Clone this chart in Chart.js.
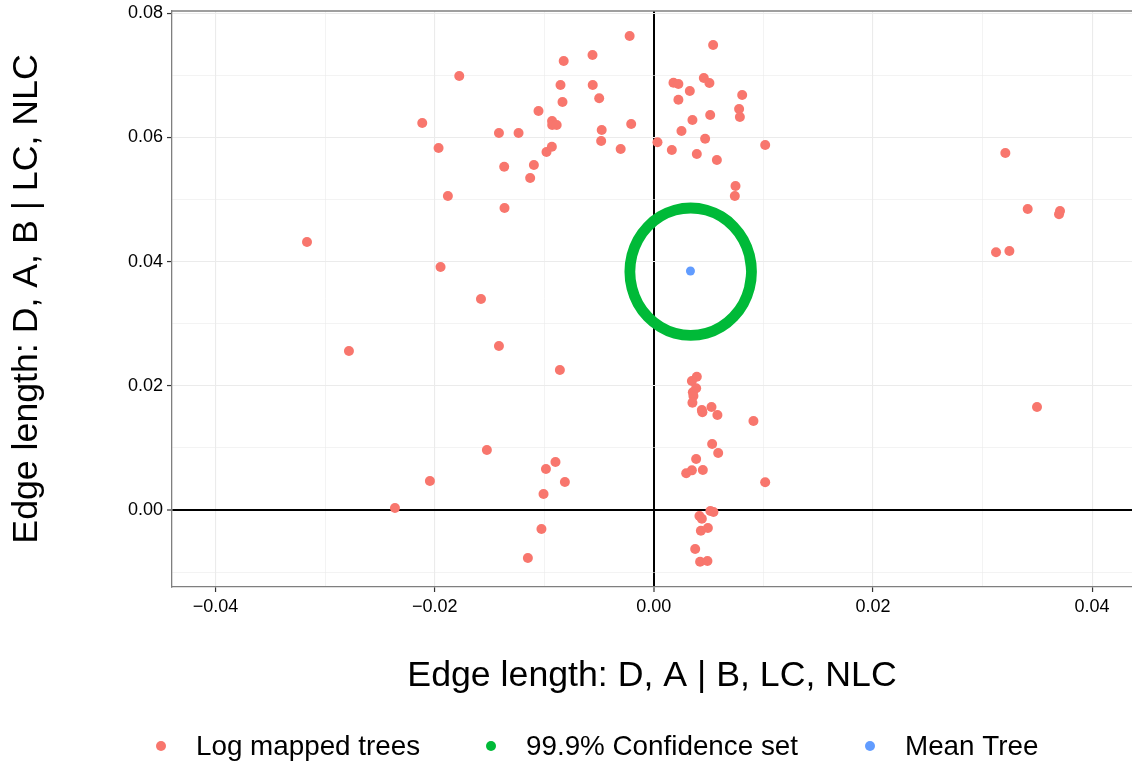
<!DOCTYPE html>
<html>
<head>
<meta charset="utf-8">
<script src="https://cdn.jsdelivr.net/npm/chart.js@4.4.1/dist/chart.umd.min.js"></script>
<style>
html,body{margin:0;padding:0;background:#ffffff;}
#wrap{width:1132px;height:763px;position:relative;}
canvas{display:block;}
</style>
</head>
<body>
<div id="wrap"><canvas id="c" width="1132" height="763" style="width:1132px;height:763px"></canvas></div>
<script>
// ---------------- data ----------------
const treeX = [
 -0.03166,-0.02783,-0.02363,-0.02114,-0.02044,-0.01965,-0.01947,-0.01880,-0.01776,-0.01578,
 -0.01524,-0.01414,-0.01414,-0.01366,-0.01363,-0.01235,-0.01150,-0.01129,-0.01095,-0.01053,
 -0.01026,-0.01007,-0.00985,-0.00980,-0.00931,-0.00929,-0.00928,-0.00887,-0.00898,-0.00858,
 -0.00852,-0.00834,-0.00823,-0.00812,-0.00560,-0.00558,-0.00499,-0.00476,-0.00481,-0.00303,
 -0.00221,-0.00207, 0.00033, 0.00164, 0.00179, 0.00224, 0.00224, 0.00252, 0.00328, 0.00352,
  0.00392, 0.00456, 0.00468, 0.00507, 0.00514, 0.00541, 0.00575, 0.00739, 0.00745, 0.00778,
  0.00785, 0.00806, 0.01016, 0.03123, 0.03208, 0.03245, 0.03412, 0.03497, 0.03707, 0.03698,
  0.00392, 0.00347, 0.00386, 0.00356, 0.00361, 0.00352, 0.00438, 0.00443, 0.00526, 0.00580,
  0.00909, 0.00532, 0.00587, 0.00386, 0.00295, 0.00347, 0.00447, 0.01016, 0.00516, 0.00544,
  0.00416, 0.00438, 0.00429, 0.00493, 0.00377, 0.00422, 0.00489
];
const treeY = [
  0.04317, 0.02561, 0.00032, 0.06234, 0.00467, 0.05831, 0.03914, 0.05058, 0.06991, 0.03399,
  0.00966, 0.06073, 0.02642, 0.05530, 0.04865, 0.06073,-0.00773, 0.05348, 0.05557, 0.06427,
 -0.00306, 0.00258, 0.00660, 0.05767, 0.05852, 0.06266, 0.06202, 0.06202, 0.00773, 0.02255,
  0.06846, 0.06572, 0.07233, 0.00451, 0.07329, 0.06846, 0.06632, 0.06121, 0.05944, 0.05815,
  0.07635, 0.06218, 0.05923, 0.05799, 0.06883, 0.06862, 0.06609, 0.06105, 0.06749, 0.06282,
  0.05735, 0.06959, 0.05981, 0.06878, 0.06363, 0.07490, 0.05638, 0.05058, 0.05219, 0.06459,
  0.06331, 0.06685, 0.05880, 0.04151, 0.05751, 0.04172, 0.04849, 0.01659, 0.04816, 0.04763,
  0.02147, 0.02078, 0.01960, 0.01896, 0.01836, 0.01728, 0.01611, 0.01574, 0.01659, 0.01530,
  0.01434, 0.01063, 0.00918, 0.00822, 0.00591, 0.00639, 0.00644, 0.00446,-0.00016,-0.00032,
 -0.00097,-0.00140,-0.00333,-0.00290,-0.00628,-0.00833,-0.00822
];
// outline of the confidence set (closed loop with overlap)
const setX = [0.00872,0.00891,0.00872,0.00817,0.00728,0.00614,0.00480,0.00336,0.00192,0.00059,
 -0.00056,-0.00145,-0.00200,-0.00219,-0.00200,-0.00145,-0.00056,0.00059,0.00192,0.00336,
  0.00480,0.00614,0.00728,0.00817,0.00872,0.00891,0.00872];
const setY = [0.03574,0.03839,0.04105,0.04352,0.04565,0.04728,0.04830,0.04865,0.04830,0.04728,
  0.04565,0.04352,0.04105,0.03839,0.03574,0.03326,0.03114,0.02951,0.02848,0.02813,
  0.02848,0.02951,0.03114,0.03326,0.03574,0.03839,0.04105];
const meanX = [0.00334];
const meanY = [0.03850];

const seriesLabels = ['Log mapped trees', '99.9% Confidence set', 'Mean Tree'];
const seriesColors = ['#F8766D', '#00BA38', '#619CFF'];

const xTickValues = [-0.04,-0.03,-0.02,-0.01,0,0.01,0.02,0.03,0.04];
const xTickLabels = ['\u22120.04','','\u22120.02','','0.00','','0.02','','0.04'];
const yTickValues = [-0.01,0,0.01,0.02,0.03,0.04,0.05,0.06,0.07,0.08];
const yTickLabels = ['','0.00','','0.02','','0.04','','0.06','','0.08'];

const xTitle = 'Edge length: D, A | B, LC, NLC';
const yTitle = 'Edge length: D, A, B | LC, NLC';

const X_MIN = -0.04398, X_MAX = 0.04364;
const Y_MIN = -0.01240, Y_MAX = 0.08038;

// ---------------- chart ----------------
const FONT = "'Liberation Sans', Arial, Helvetica, sans-serif";
const toXY = (xs, ys) => xs.map((x, i) => ({x: x, y: ys[i]}));

function gridFor(labels) {
  return {
    color: c => (c.tick && c.tick.value === 0) ? '#000000' : '#EBEBEB',
    lineWidth: c => (c.tick && c.tick.value === 0) ? 2 : (labels[c.index] ? 1.1 : 0.6),
    tickColor: c => labels[c.index] ? '#333333' : 'rgba(0,0,0,0)',
    tickWidth: 1.2,
    tickLength: 5,
    drawTicks: true
  };
}

const panelBorder = {
  id: 'panelBorder',
  afterDraw(chart) {
    const {ctx, chartArea: a} = chart;
    ctx.save();
    ctx.strokeStyle = '#7f7f7f';
    ctx.lineWidth = 1.3;
    ctx.beginPath();
    ctx.moveTo(a.left, a.top);
    ctx.lineTo(a.right, a.top);
    ctx.stroke();
    ctx.restore();
  }
};

const legendDotX = [161, 491, 870];
const legendTextX = [196, 526, 905];
const legendY = 747;
const bottomLegend = {
  id: 'bottomLegend',
  afterDraw(chart) {
    const ctx = chart.ctx;
    ctx.save();
    ctx.font = '27.8px ' + FONT;
    ctx.textBaseline = 'middle';
    ctx.textAlign = 'left';
    chart.data.datasets.forEach((ds, i) => {
      ctx.fillStyle = seriesColors[i];
      ctx.beginPath();
      ctx.arc(legendDotX[i], legendY - 1, 5, 0, Math.PI * 2);
      ctx.fill();
      ctx.fillStyle = '#000000';
      ctx.fillText(ds.label, legendTextX[i], legendY);
    });
    ctx.restore();
  }
};

new Chart(document.getElementById('c'), {
  type: 'scatter',
  data: {
    datasets: [
      {
        label: seriesLabels[0],
        data: toXY(treeX, treeY),
        backgroundColor: seriesColors[0],
        borderColor: seriesColors[0],
        pointRadius: 5,
        pointBorderWidth: 0,
        order: 3
      },
      {
        label: seriesLabels[1],
        data: toXY(setX, setY),
        showLine: true,
        borderColor: seriesColors[1],
        backgroundColor: seriesColors[1],
        borderWidth: 10.8,
        tension: 0.4,
        pointRadius: 0,
        fill: false,
        borderCapStyle: 'round',
        borderJoinStyle: 'round',
        order: 2
      },
      {
        label: seriesLabels[2],
        data: toXY(meanX, meanY),
        backgroundColor: seriesColors[2],
        borderColor: seriesColors[2],
        pointRadius: 4.5,
        pointBorderWidth: 0,
        order: 1
      }
    ]
  },
  options: {
    responsive: false,
    animation: false,
    events: [],
    layout: {autoPadding: false, padding: {top: 11, right: 0, bottom: 0, left: 0}},
    plugins: {legend: {display: false}, tooltip: {enabled: false}},
    scales: {
      x: {
        type: 'linear',
        position: 'bottom',
        min: X_MIN, max: X_MAX,
        bounds: 'data',
        afterBuildTicks: s => { s.ticks = xTickValues.map(v => ({value: v})); },
        afterFit: s => { s.height = 176; s.paddingLeft = 0; s.paddingRight = 0; },
        ticks: {
          autoSkip: false, maxRotation: 0, minRotation: 0, padding: 4,
          color: '#000000', font: {family: FONT, size: 18},
          callback: (v, i) => xTickLabels[i]
        },
        grid: gridFor(xTickLabels),
        border: {display: true, color: '#7f7f7f', width: 1.3},
        title: {display: true, text: xTitle, color: '#000000',
                font: {family: FONT, size: 35.7}, padding: {top: 0, bottom: 65}}
      },
      y: {
        type: 'linear',
        position: 'left',
        min: Y_MIN, max: Y_MAX,
        bounds: 'data',
        afterBuildTicks: s => { s.ticks = yTickValues.map(v => ({value: v})); },
        afterFit: s => { s.width = 172; s.paddingTop = 0; s.paddingBottom = 0; },
        ticks: {
          autoSkip: false, padding: 4,
          color: '#000000', font: {family: FONT, size: 18},
          callback: (v, i) => yTickLabels[i]
        },
        grid: gridFor(yTickLabels),
        border: {display: true, color: '#7f7f7f', width: 1.3},
        title: {display: true, text: yTitle, color: '#000000',
                font: {family: FONT, size: 35.7}, padding: {top: 5.5, bottom: 0}}
      }
    }
  },
  plugins: [panelBorder, bottomLegend]
});
</script>
</body>
</html>
